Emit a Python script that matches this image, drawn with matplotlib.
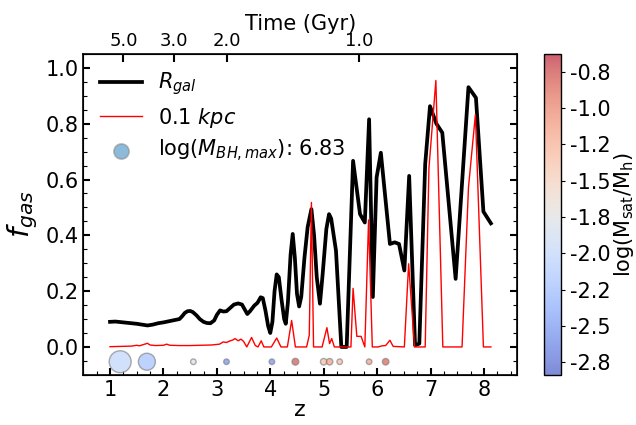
"""Gas fraction vs redshift with satellite markers and a lookback-time top axis."""
import matplotlib
matplotlib.use("Agg")
import matplotlib.pyplot as plt
import numpy as np
from matplotlib.ticker import MultipleLocator, FormatStrFormatter

# --- f_gas within R_gal (black) ---
z_gal = [1.00, 1.10, 1.20, 1.30, 1.40, 1.50, 1.60, 1.70, 1.80, 1.90,
         2.00, 2.10, 2.20, 2.30, 2.35, 2.40, 2.45, 2.50, 2.55, 2.62,
         2.68, 2.75, 2.81, 2.88, 2.95, 3.00, 3.06, 3.12, 3.18, 3.25,
         3.32, 3.40, 3.47, 3.52, 3.57, 3.62, 3.70, 3.76, 3.82, 3.86,
         3.91, 3.96, 4.00, 4.04, 4.08, 4.12, 4.16, 4.21, 4.26, 4.29,
         4.33, 4.38, 4.42, 4.46, 4.50, 4.54, 4.58, 4.64, 4.70, 4.77,
         4.82, 4.87, 4.93, 4.98, 5.05, 5.10, 5.14, 5.23, 5.33, 5.43,
         5.55, 5.68, 5.77, 5.85, 5.92, 5.99, 6.07, 6.24, 6.33, 6.41,
         6.51, 6.60, 6.71, 6.79, 6.90, 6.99, 7.11, 7.22, 7.47, 7.71,
         7.85, 7.99, 8.13]
f_gal = [0.090, 0.091, 0.089, 0.087, 0.085, 0.083, 0.080, 0.077, 0.080, 0.085,
         0.088, 0.092, 0.096, 0.100, 0.110, 0.122, 0.128, 0.129, 0.125, 0.113,
         0.100, 0.090, 0.086, 0.085, 0.095, 0.115, 0.131, 0.127, 0.128, 0.140,
         0.152, 0.156, 0.152, 0.135, 0.118, 0.128, 0.148, 0.158, 0.178, 0.175,
         0.130, 0.075, 0.050, 0.090, 0.200, 0.260, 0.250, 0.170, 0.100, 0.083,
         0.160, 0.330, 0.405, 0.320, 0.190, 0.145, 0.180, 0.320, 0.430, 0.494,
         0.400, 0.250, 0.155, 0.260, 0.423, 0.476, 0.460, 0.345, 0.000, 0.000,
         0.667, 0.476, 0.446, 0.816, 0.179, 0.607, 0.696, 0.369, 0.375, 0.369,
         0.274, 0.613, 0.006, 0.012, 0.655, 0.863, 0.800, 0.768, 0.244, 0.931,
         0.893, 0.485, 0.443]

# --- f_gas within 0.1 kpc (red) ---
z_core = [1.00, 1.20, 1.40, 1.50, 1.55, 1.65, 1.70, 1.75, 1.85, 2.00,
          2.06, 2.12, 2.30, 2.50, 2.70, 2.90, 3.05, 3.12, 3.18, 3.25,
          3.30, 3.34, 3.40, 3.45, 3.50, 3.56, 3.65, 3.72, 3.77, 3.83,
          3.88, 3.95, 4.02, 4.12, 4.20, 4.32, 4.40, 4.47, 4.68, 4.73,
          4.77, 4.81, 4.97, 5.06, 5.11, 5.15, 5.20, 5.51, 5.55, 5.62,
          5.70, 5.77, 5.84, 5.91, 6.02, 6.09, 6.16, 6.24, 6.30, 6.51,
          6.59, 6.70, 6.90, 6.97, 7.10, 7.23, 7.59, 7.71, 7.84, 7.99,
          8.13]
f_core = [0.001, 0.002, 0.003, 0.006, 0.004, 0.010, 0.013, 0.007, 0.005, 0.006,
          0.010, 0.006, 0.005, 0.005, 0.006, 0.007, 0.010, 0.018, 0.016, 0.022,
          0.025, 0.030, 0.022, 0.028, 0.020, 0.000, 0.034, 0.005, 0.000, 0.022,
          0.000, 0.000, 0.000, 0.032, 0.000, 0.000, 0.095, 0.000, 0.000, 0.042,
          0.518, 0.000, 0.000, 0.069, 0.012, 0.030, 0.000, 0.000, 0.210, 0.038,
          0.038, 0.000, 0.455, 0.000, 0.000, 0.004, 0.005, 0.024, 0.002, 0.000,
          0.298, 0.000, 0.000, 0.640, 0.955, 0.000, 0.000, 0.571, 0.833, 0.000,
          0.000]

# --- satellites: redshift, log(M_sat/M_h), marker area ---
sat_z = [1.19, 1.69, 2.56, 3.18, 4.03, 4.47, 5.00, 5.11, 5.30, 5.85, 6.16]
sat_ratio = [-2.05, -2.25, -1.85, -2.60, -2.60, -0.85, -1.40, -1.20, -1.40, -1.20, -0.90]
sat_size = [250, 150, 16, 16, 16, 24, 22, 22, 16, 16, 22]

# --- lookback axis ---
time_ticks_z = [1.249, 2.198, 3.184, 5.666]
time_labels = ["5.0", "3.0", "2.0", "1.0"]

cbar_ticks = [-2.8, -2.55, -2.3, -2.05, -1.8, -1.55, -1.3, -1.05, -0.8]
cbar_labels = ["-2.8", "-2.5", "-2.2", "-2.0", "-1.8", "-1.5", "-1.2", "-1.0", "-0.8"]

fig = plt.figure(figsize=(6.36, 4.25), dpi=100)
ax = fig.add_axes([0.131, 0.118, 0.682, 0.755])
cax = fig.add_axes([0.855, 0.118, 0.027, 0.755])

ax.plot(z_gal, f_gal, color="k", lw=2.7, label=r"$R_{gal}$")
ax.plot(z_core, f_core, color="red", lw=1.0, label=r"0.1 $kpc$")
sc = ax.scatter(sat_z, np.full(len(sat_z), -0.053), s=sat_size, c=sat_ratio,
                cmap="coolwarm", vmin=-2.885, vmax=-0.678, alpha=0.65,
                edgecolors="gray", linewidths=1.0, zorder=3)
ax.scatter([], [], s=120, color="C0", alpha=0.5, edgecolors="gray",
           linewidths=1.2, label=r"log($M_{BH,max}$): 6.83")

ax.set_xlim(0.5, 8.62)
ax.set_ylim(-0.1, 1.05)
ax.xaxis.set_major_locator(MultipleLocator(1))
ax.xaxis.set_minor_locator(MultipleLocator(0.25))
ax.yaxis.set_major_locator(MultipleLocator(0.2))
ax.yaxis.set_minor_locator(MultipleLocator(0.05))
ax.yaxis.set_major_formatter(FormatStrFormatter("%.1f"))
ax.tick_params(which="both", direction="in", right=True, top=False, labelsize=15)
ax.tick_params(which="major", length=5, width=1.5)
ax.tick_params(which="minor", length=3, width=0.8)
for sp in ax.spines.values():
    sp.set_linewidth(1.2)

ax.set_xlabel("z", fontsize=16, labelpad=0)
ax.set_ylabel(r"$f_{gas}$", fontsize=21)

ax.legend(loc="upper left", frameon=False, fontsize=15, handlelength=2.0,
          borderaxespad=0.4, labelspacing=0.4)

# top axis: cosmic time
top = ax.twiny()
top.set_xlim(ax.get_xlim())
top.set_xticks(time_ticks_z)
top.set_xticklabels(time_labels)
top.tick_params(direction="in", length=6, width=1.5, labelsize=13, pad=3)
top.set_xlabel("Time (Gyr)", fontsize=15, labelpad=1)

cb = fig.colorbar(sc, cax=cax)
cb.set_ticks(cbar_ticks)
cb.set_ticklabels(cbar_labels)
cb.ax.tick_params(labelsize=15, length=3)
cb.outline.set_linewidth(1.0)
cb.set_label(r"log($\mathrm{M_{sat}/M_h}$)", fontsize=15, labelpad=1)

fig.savefig("out.png", dpi=100)
